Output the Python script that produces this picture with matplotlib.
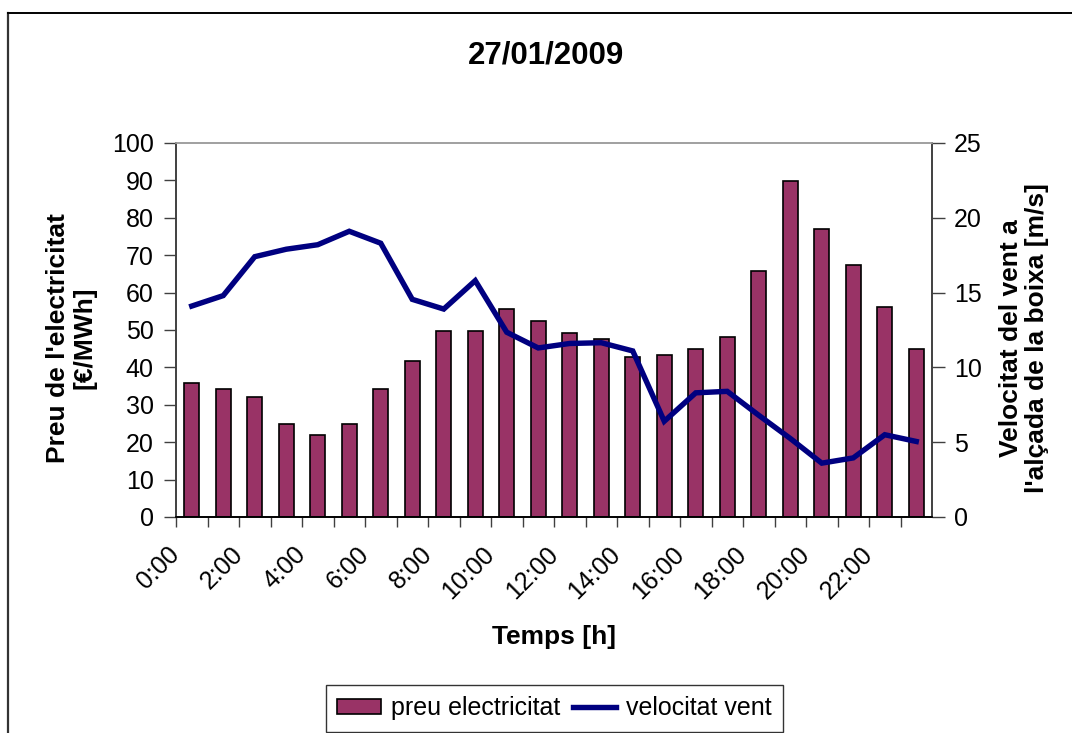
import numpy as np
import matplotlib
matplotlib.use("Agg")
from matplotlib import pyplot as plt
from matplotlib.patches import Patch
from matplotlib.lines import Line2D

plt.rcParams['font.family'] = ['Liberation Sans', 'DejaVu Sans']

# data
hours = ["%d:00" % h for h in range(24)]
preu = [35.7, 34.2, 32.1, 25.0, 21.9, 25.0, 34.2, 41.8, 49.7, 49.7, 55.6, 52.4,
        49.3, 47.6, 42.8, 43.2, 44.9, 48.1, 65.8, 89.8, 77.0, 67.4, 56.1, 44.9]
vent = [14.1, 14.8, 17.4, 17.9, 18.2, 19.1, 18.3, 14.55, 13.9, 15.8, 12.35, 11.3,
        11.6, 11.65, 11.1, 6.4, 8.3, 8.4, 6.8, 5.25, 3.6, 3.95, 5.5, 5.05]

bar_color = '#993366'
line_color = '#000080'

W, H = 1072, 733
fig = plt.figure(figsize=(W / 100, H / 100), dpi=100)
ax = fig.add_axes([176 / W, 1 - 517 / H, (932 - 176) / W, (517 - 143) / H])
ax2 = ax.twinx()

x = np.arange(len(hours))
ax.bar(x, preu, width=0.47, color=bar_color, edgecolor='black', linewidth=1.2, zorder=2)
ax2.plot(x, vent, color=line_color, linewidth=3.9, solid_joinstyle='miter', zorder=3)

ax.set_xlim(-0.5, 23.5)
ax.set_ylim(0, 100)
ax2.set_ylim(0, 25)
ax.set_yticks(np.arange(0, 101, 10))
ax2.set_yticks(np.arange(0, 26, 5))

# tick marks on category boundaries, labels every two hours
ax.set_xticks(x[::2] - 0.5)
ax.set_xticklabels(hours[::2], rotation=45, ha='right', va='center',
                   rotation_mode='anchor', fontsize=18)
ax.set_xticks(np.arange(0.5, 24, 2), minor=True)
ax.tick_params(axis='x', which='major', length=7, width=1, color='#404040', pad=17)
ax.tick_params(axis='x', which='minor', length=7, width=1, color='#404040')
ax.tick_params(axis='y', length=9, width=1, color='#404040', labelsize=18, pad=7)
ax2.tick_params(axis='y', length=9, width=1, color='#404040', labelsize=18, pad=7)

for a in (ax, ax2):
    a.spines['top'].set_color('#a0a0a0')
    a.spines['left'].set_color('#404040')
    a.spines['right'].set_color('#404040')
    a.spines['bottom'].set_color('black')
    for s in a.spines.values():
        s.set_linewidth(1.2)

fig.text(546 / W, 1 - 55 / H, "27/01/2009", fontsize=22.5, fontweight='bold',
         ha='center', va='center')
fig.text(71 / W, 1 - 338 / H, "Preu de l'electricitat\n[€/MWh]", fontsize=19,
         fontweight='bold', rotation=90, ha='center', va='center',
         multialignment='center', linespacing=1.15)
fig.text(1024 / W, 1 - 338 / H, "Velocitat del vent a\nl'alçada de la boixa [m/s]",
         fontsize=19, fontweight='bold', rotation=90, ha='center', va='center',
         multialignment='center', linespacing=1.15)
fig.text(554 / W, 1 - 637 / H, "Temps [h]", fontsize=19, fontweight='bold',
         ha='center', va='center')

handles = [Patch(facecolor=bar_color, edgecolor='black', linewidth=1.2),
           Line2D([], [], color=line_color, linewidth=3.9)]
leg = fig.legend(handles, ["preu electricitat", "velocitat vent"], ncol=2,
                 loc='upper center', bbox_to_anchor=(554.5 / W, 1 - 685 / H),
                 fontsize=18, frameon=True, fancybox=False, shadow=False,
                 handlelength=1.75, handleheight=0.6, handletextpad=0.4,
                 columnspacing=0.5, borderpad=0.45, borderaxespad=0)
leg.get_frame().set_edgecolor('black')
leg.get_frame().set_linewidth(1.0)

# chart area border (cropped on the right and bottom)
fig.add_artist(Line2D([8 / W, 8 / W], [0, 1 - 13 / H], transform=fig.transFigure,
                      color='#333333', linewidth=1.6))
fig.add_artist(Line2D([8 / W, 1], [1 - 13 / H, 1 - 13 / H], transform=fig.transFigure,
                      color='black', linewidth=1.4))

fig.savefig("out.png", dpi=100)
